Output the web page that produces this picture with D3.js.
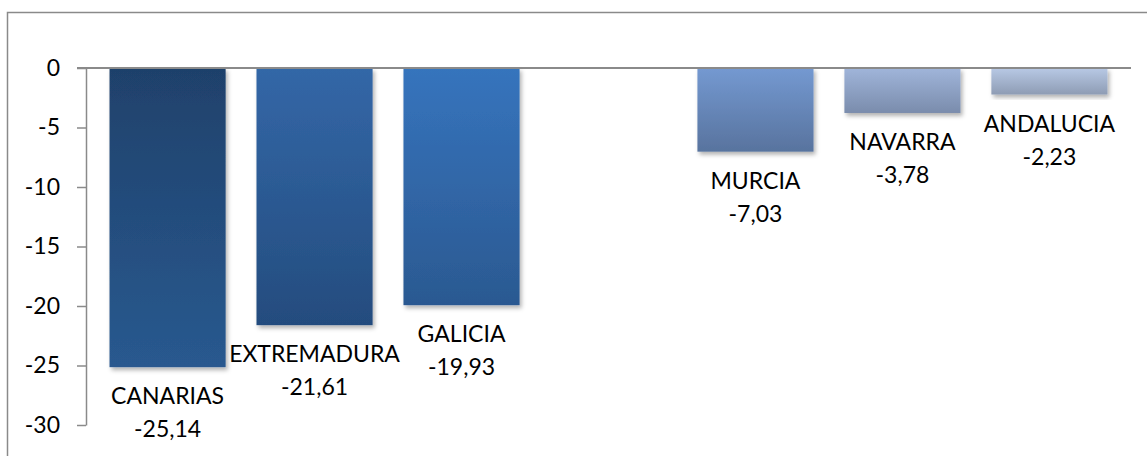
<!DOCTYPE html>
<html>
<head>
<meta charset="utf-8">
<script src="https://cdn.jsdelivr.net/npm/d3@7"></script>
<style>
  body { margin: 0; background: #fff; }
  svg { display: block; }
</style>
</head>
<body>
<div id="container"></div>
<script>
let w = 1147;
let h = 456;

// data
var regions = ["CANARIAS", "EXTREMADURA", "GALICIA", "", "MURCIA", "NAVARRA", "ANDALUCIA"];
var values = [-25.14, -21.61, -19.93, null, -7.03, -3.78, -2.23];
var yTicks = [0, -5, -10, -15, -20, -25, -30];

// gradient colours, top -> bottom, one pair per bar
var topColors = ["#1f416b", "#3367a7", "#3674bd", null, "#7499d1", "#a0b5da", "#b8c9e5"];
var bottomColors = ["#29598f", "#244c7e", "#2b5991", null, "#58739e", "#7a8cac", "#8e9cb4"];

var fontFam = "Lato, 'Open Sans', sans-serif";

// excel-style numbers: plain hyphen, comma decimals
function num(v, dec) {
  return d3.format("." + dec + "f")(v).replace("\u2212", "-").replace(".", ",");
}

let viz = d3.select("#container")
  .append("svg")
  .attr("width", w)
  .attr("height", h);

let defs = viz.append("defs");

let shadow = defs.append("filter")
  .attr("id", "shadow")
  .attr("x", "-10%").attr("y", "-10%")
  .attr("width", "130%").attr("height", "130%");
shadow.append("feDropShadow")
  .attr("dx", 2).attr("dy", 3)
  .attr("stdDeviation", 2)
  .attr("flood-color", "#000")
  .attr("flood-opacity", 0.3);

regions.forEach(function(r, i) {
  if (topColors[i] == null) return;
  let g = defs.append("linearGradient")
    .attr("id", "grad" + i)
    .attr("x1", 0).attr("y1", 0).attr("x2", 0).attr("y2", 1);
  g.append("stop").attr("offset", "0%").attr("stop-color", topColors[i]);
  g.append("stop").attr("offset", "100%").attr("stop-color", bottomColors[i]);
});

// outer frame
viz.append("rect")
  .attr("x", 7.5)
  .attr("y", 12.5)
  .attr("width", w + 20)
  .attr("height", h + 20)
  .attr("fill", "none")
  .attr("stroke", "#8a8a8a")
  .attr("stroke-width", 1.5);

var x = d3.scaleBand()
  .domain(d3.range(regions.length))
  .range([86, 1131])
  .paddingInner(0.21)
  .paddingOuter(0.16);

var y = d3.scaleLinear()
  .domain([0, -30])
  .range([68, 425]);

// bars
let bars = viz.selectAll(".bar")
  .data(values.map(function(v, i) { return {v: v, i: i, name: regions[i]}; })
    .filter(function(d) { return d.v != null; }))
  .enter()
  .append("g")
  .attr("class", "bar");

bars.append("rect")
  .attr("x", function(d) { return x(d.i); })
  .attr("y", y(0))
  .attr("width", x.bandwidth())
  .attr("height", function(d) { return y(d.v) - y(0); })
  .attr("fill", function(d) { return "url(#grad" + d.i + ")"; })
  .attr("filter", "url(#shadow)");

bars.append("text")
  .text(function(d) { return d.name; })
  .attr("x", function(d) { return x(d.i) + x.bandwidth() / 2; })
  .attr("y", function(d) { return y(d.v) + 37; })
  .attr("text-anchor", "middle")
  .attr("font-family", fontFam)
  .attr("font-size", 23)
  .attr("fill", "#000");

bars.append("text")
  .text(function(d) { return num(d.v, 2); })
  .attr("x", function(d) { return x(d.i) + x.bandwidth() / 2; })
  .attr("y", function(d) { return y(d.v) + 70; })
  .attr("text-anchor", "middle")
  .attr("font-family", fontFam)
  .attr("font-size", 23)
  .attr("fill", "#000");

// y axis
let yAxis = viz.append("g")
  .attr("transform", "translate(86,0)")
  .call(d3.axisLeft(y).tickValues(yTicks).tickSize(9).tickPadding(17).tickSizeOuter(0)
    .tickFormat(function(d) { return num(d, 0); }));
yAxis.select(".domain").attr("stroke", "#8a8a8a").attr("stroke-width", 1.5);
yAxis.selectAll(".tick line").attr("stroke", "#8a8a8a").attr("stroke-width", 1.5);
yAxis.selectAll(".tick text")
  .attr("font-family", fontFam)
  .attr("font-size", 23)
  .attr("fill", "#000");

// zero line
viz.append("line")
  .attr("x1", 77)
  .attr("x2", 1131)
  .attr("y1", y(0))
  .attr("y2", y(0))
  .attr("stroke", "#8a8a8a")
  .attr("stroke-width", 2);
</script>
</body>
</html>
